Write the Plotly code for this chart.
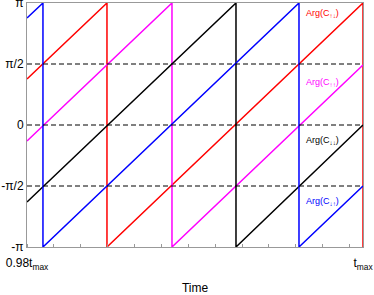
import plotly.graph_objects as go

# Phases in units of pi, times in units of t_max
red_t = [0.98, 0.98476, 0.98476, 1.0, 1.0]
red_phase = [0.377, 1.0, -1.0, 1.0, -1.0]

magenta_t = [0.98, 0.98863, 0.98863, 1.0]
magenta_phase = [-0.131, 1.0, -1.0, 0.492]

black_t = [0.98, 0.99244, 0.99244, 1.0]
black_phase = [-0.631, 1.0, -1.0, 0.0]

blue_t = [0.98, 0.98095, 0.98095, 0.99619, 0.99619, 1.0]
blue_phase = [0.877, 1.0, -1.0, 1.0, -1.0, -0.5]

y_tickvals = [-1.0, -0.5, 0.0, 0.5, 1.0]
y_ticktext = ["-π", "-π/2", "0", "π/2", "π"]
x_tickvals = [0.98, 1.0]
x_ticktext = ["0.98t<sub>max</sub>", "t<sub>max</sub>"]
dashed_levels = [-0.5, 0.0, 0.5]

series = [
    ("Arg(C<sub>↑↓</sub>)", red_t, red_phase, "#ff0000", 0.918),
    ("Arg(C<sub>↑↑</sub>)", magenta_t, magenta_phase, "#ff00ff", 0.35),
    ("Arg(C<sub>↓↓</sub>)", black_t, black_phase, "#000000", -0.125),
    ("Arg(C<sub>↓↑</sub>)", blue_t, blue_phase, "#0000ff", -0.625),
]

fig = go.Figure()
for name, t, p, c, _ in series:
    fig.add_trace(go.Scatter(x=t, y=p, mode="lines", name=name,
                             line=dict(color=c, width=1.5), showlegend=False,
                             hoverinfo="skip"))

for lvl in dashed_levels:
    fig.add_shape(type="line", xref="paper", x0=0, x1=1, yref="y", y0=lvl, y1=lvl,
                  line=dict(color="black", width=1, dash="5px,3px"), layer="above")

for name, t, p, c, ylab in series:
    fig.add_annotation(x=0.99649, y=ylab, xref="x", yref="y", text=name,
                       showarrow=False, xanchor="left", yanchor="middle",
                       font=dict(size=9, color=c, family="Liberation Sans, Arial, sans-serif"))

fig.update_layout(
    width=374, height=295,
    margin=dict(l=27, r=11, t=3, b=48, autoexpand=False),
    paper_bgcolor="white", plot_bgcolor="white",
    font=dict(family="Liberation Sans, Arial, sans-serif", size=12, color="black"),
    xaxis=dict(range=[0.98, 1.0], tickvals=x_tickvals, ticktext=x_ticktext,
               automargin=False, ticklabeloverflow="allow", ticklabelstandoff=5,
               showgrid=False, zeroline=False, showline=True, linecolor="#999999",
               linewidth=1, mirror=True, ticks="", tickfont=dict(size=12),
               title=dict(text="Time", font=dict(size=12), standoff=20),
               minor=dict(ticks="inside", tick0=0.98, dtick=0.0016, ticklen=3,
                          tickcolor="#999999", showgrid=False)),
    yaxis=dict(range=[-1.0, 1.0], tickvals=y_tickvals, ticktext=y_ticktext,
               automargin=False, ticklabeloverflow="allow",
               showgrid=False, zeroline=False, showline=True, linecolor="#999999",
               linewidth=1, mirror=True, ticks="", tickfont=dict(size=12)),
)

fig.write_html("out.html", config={"displayModeBar": False},
               post_script="document.body.style.margin='0';document.body.style.overflow='hidden';")
